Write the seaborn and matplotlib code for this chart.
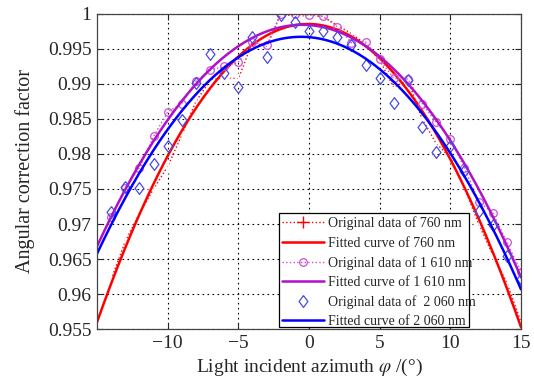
import numpy as np
import pandas as pd
import matplotlib
matplotlib.use("Agg")
import matplotlib.pyplot as plt
from matplotlib.lines import Line2D
from matplotlib.patches import Rectangle
import seaborn as sns

# ---- data ----
angles = list(range(-14, 16))
orig_760 = [0.9621, 0.9675, 0.9715, 0.9750, 0.9782, 0.9827, 0.9875, 0.9905, 0.9910, 0.9907,
            0.9960, 0.9953, 1.0000, 0.9997, 0.9997, 0.9996, 0.9984, 0.9972, 0.9957, 0.9934,
            0.9895, 0.9906, 0.9850, 0.9815, 0.9795, 0.9752, 0.9700, 0.9656, 0.9616, 0.9560]
orig_1610 = [0.9710, 0.9751, 0.9780, 0.9825, 0.9860, 0.9872, 0.9904, 0.9920, 0.9925, 0.9931,
             0.9960, 0.9955, 1.0000, 1.0000, 0.9999, 0.9997, 0.9982, 0.9959, 0.9960, 0.9935,
             0.9908, 0.9907, 0.9872, 0.9845, 0.9822, 0.9780, 0.9732, 0.9716, 0.9674, 0.9632]
orig_2060 = [0.9717, 0.9753, 0.9752, 0.9786, 0.9811, 0.9849, 0.9901, 0.9943, 0.9915, 0.9896,
             0.9967, 0.9939, 0.9998, 0.9989, 0.9976, 0.9976, 0.9967, 0.9956, 0.9927, 0.9908,
             0.9873, 0.9906, 0.9838, 0.9803, 0.9811, 0.9775, 0.9718, 0.9699, 0.9655, 0.9621]
x_ticks = [-10, -5, 0, 5, 10, 15]
x_tick_labels = ["\u221210", "\u22125", "0", "5", "10", "15"]
y_ticks = [0.955, 0.96, 0.965, 0.97, 0.975, 0.98, 0.985, 0.99, 0.995, 1.0]
y_tick_labels = ["0.955", "0.96", "0.965", "0.97", "0.975", "0.98", "0.985", "0.99", "0.995", "1"]
legend_labels = ["Original data of 760 nm", "Fitted curve of 760 nm",
                 "Original data of 1 610 nm", "Fitted curve of 1 610 nm",
                 "Original data of  2 060 nm", "Fitted curve of 2 060 nm"]

# quadratic least-squares fits of the original data (as in the source figure)
fit_x = np.linspace(-15, 15, 301)
fits = {}
for key, vals in (("760", orig_760), ("1610", orig_1610), ("2060", orig_2060)):
    fits[key] = np.polyval(np.polyfit(angles, vals, 2), fit_x)

df = pd.DataFrame({"angle": angles, "o760": orig_760, "o1610": orig_1610, "o2060": orig_2060})
dfit = pd.DataFrame({"angle": fit_x, "f760": fits["760"], "f1610": fits["1610"], "f2060": fits["2060"]})

sns.set_theme(style="ticks")
plt.rcParams["font.family"] = ["Liberation Serif", "DejaVu Serif"]
plt.rcParams["mathtext.fontset"] = "stix"

fig = plt.figure(figsize=(5.34, 3.79), dpi=100)
ax = fig.add_axes([0.1816, 0.1319, 0.7941, 0.8312])

red = "#FF0000"
mag_pts = "#CC4FD6"
mag_fit = "#B010C8"
blue_pts = "#4A4AE6"
blue_fit = "#0000FF"
diamond = [(0, 1), (0.75, 0), (0, -1), (-0.75, 0), (0, 1)]

st_760 = dict(color=red, linestyle=":", lw=1.0, marker="+", markersize=8, mew=1.0)
st_f760 = dict(color=red, lw=1.8)
st_1610 = dict(color=mag_pts, linestyle=":", lw=1.0, marker="o", markersize=5.5,
               mfc="none", mec=mag_pts, mew=0.9)
st_f1610 = dict(color=mag_fit, lw=1.8)
st_2060 = dict(color=blue_pts, linestyle="none", marker=diamond, markersize=8.5,
               mfc="none", mec=blue_pts, mew=0.9)
st_f2060 = dict(color=blue_fit, lw=1.8)

sns.lineplot(data=df, x="angle", y="o760", ax=ax, legend=False, **st_760)
sns.lineplot(data=dfit, x="angle", y="f760", ax=ax, legend=False, **st_f760)
sns.lineplot(data=df, x="angle", y="o1610", ax=ax, legend=False, **st_1610)
sns.lineplot(data=dfit, x="angle", y="f1610", ax=ax, legend=False, **st_f1610)
sns.lineplot(data=df, x="angle", y="o2060", ax=ax, legend=False, **st_2060)
sns.lineplot(data=dfit, x="angle", y="f2060", ax=ax, legend=False, **st_f2060)

ax.set_xlim(-15, 15)
ax.set_ylim(0.955, 1.0)
ax.set_xticks(x_ticks)
ax.set_xticklabels(x_tick_labels)
ax.set_yticks(y_ticks)
ax.set_yticklabels(y_tick_labels)
ax.tick_params(direction="in", top=True, right=True, labelsize=14, length=4, width=0.8, pad=4)
ax.grid(True, color="black", linestyle=(0, (1.5, 3)), linewidth=0.8)
for s in ax.spines.values():
    s.set_color("#444444")
    s.set_linewidth(0.9)

ax.set_xlabel(r"Light incident azimuth $\varphi$ /(°)", fontsize=14, labelpad=4)
ax.set_ylabel("Angular correction factor", fontsize=14.5, labelpad=9)

# legend: frame drawn as a fixed box (long label overflows it, as in the source)
box = Rectangle((0.429, 0.006), 0.448, 0.362, transform=ax.transAxes, facecolor="white",
                edgecolor="black", lw=0.9, zorder=4)
ax.add_patch(box)
handles = [Line2D([], [], **st_760), Line2D([], [], **st_f760),
           Line2D([], [], **st_1610), Line2D([], [], **st_f1610),
           Line2D([], [], **st_2060), Line2D([], [], **st_f2060)]
leg = ax.legend(handles, legend_labels, loc="upper left", bbox_to_anchor=(0.429, 0.368),
                fontsize=10, frameon=False, handlelength=3.0, handletextpad=0.25,
                borderpad=0.25, labelspacing=0.45, borderaxespad=0.0, numpoints=1)
leg.set_zorder(5)

fig.savefig("out.png", dpi=100)
